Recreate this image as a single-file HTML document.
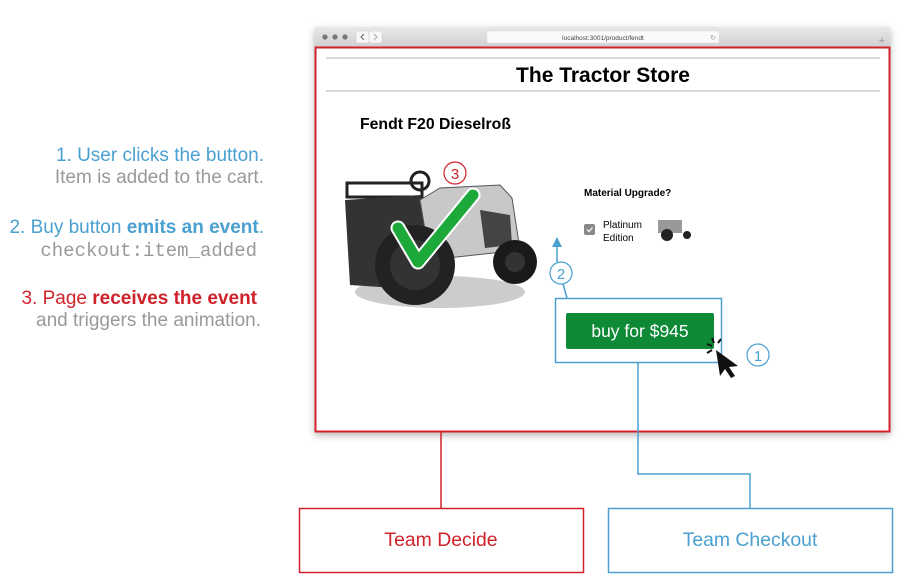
<!DOCTYPE html>
<html><head><meta charset="utf-8"><style>
body{margin:0;width:923px;height:578px;background:#fff;position:relative;overflow:hidden;font-family:"Liberation Sans",sans-serif}
.t{position:absolute;white-space:nowrap}
</style></head><body>
<svg width="923" height="578" style="position:absolute;left:0;top:0">
<defs>
<linearGradient id="tb" x1="0" y1="0" x2="0" y2="1"><stop offset="0" stop-color="#e8e8e8"/><stop offset="1" stop-color="#d0d0d0"/></linearGradient>
<filter id="sh" x="-5%" y="-5%" width="110%" height="115%"><feDropShadow dx="0" dy="3" stdDeviation="4" flood-opacity="0.3"/></filter>
</defs>
<rect x="315" y="27" width="575" height="405" fill="#fff" filter="url(#sh)"/>
<rect x="315" y="27" width="575" height="20" fill="url(#tb)"/>
<circle cx="325" cy="37" r="2.6" fill="#777"/><circle cx="335" cy="37" r="2.6" fill="#777"/><circle cx="345" cy="37" r="2.6" fill="#777"/>
<rect x="356" y="31" width="13" height="12" rx="2" fill="#f7f7f7" stroke="#ccc" stroke-width="0.5"/>
<rect x="369" y="31" width="13" height="12" rx="2" fill="#f7f7f7" stroke="#ccc" stroke-width="0.5"/>
<path d="M364 34 l-3 3 l3 3" stroke="#666" fill="none"/><path d="M374 34 l3 3 l-3 3" stroke="#aaa" fill="none"/>
<rect x="487" y="31" width="232" height="12" rx="2" fill="#fafafa" stroke="#ddd" stroke-width="0.5"/>
<text x="603" y="40" font-size="6.5" fill="#444" text-anchor="middle" font-family="Liberation Sans">localhost:3001/product/fendt</text>
<text x="713" y="40" font-size="7" fill="#999" text-anchor="middle">↻</text>
<text x="882" y="44" font-size="11" fill="#999" text-anchor="middle">+</text>
<rect x="315.5" y="47.5" width="574" height="384" fill="none" stroke="#d0222b" stroke-width="2"/>
<line x1="326" y1="58" x2="880" y2="58" stroke="#ccc" stroke-width="1.5"/>
<line x1="326" y1="91" x2="880" y2="91" stroke="#ccc" stroke-width="1.5"/>
<text x="603" y="82" font-size="21" font-weight="bold" text-anchor="middle">The Tractor Store</text>
<text x="360" y="129" font-size="15.8" font-weight="bold">Fendt F20 Dieselroß</text>
<!-- tractor -->
<ellipse cx="440" cy="292" rx="85" ry="16" fill="#ccc"/>
<rect x="347" y="183" width="75" height="14" fill="none" stroke="#222" stroke-width="3"/>
<path d="M345 200 L420 195 L430 215 L425 290 L350 285 Z" fill="#333"/>
<path d="M420 200 L440 188 L500 185 L512 198 L520 250 L430 260 Z" fill="#c8c8c8" stroke="#555"/>
<path d="M480 210 L510 215 L512 245 L485 248 Z" fill="#444"/>
<circle cx="415" cy="265" r="40" fill="#222"/>
<circle cx="415" cy="265" r="25" fill="#333"/>
<circle cx="515" cy="262" r="22" fill="#1a1a1a"/>
<circle cx="515" cy="262" r="10" fill="#333"/>
<circle cx="420" cy="181" r="9" fill="none" stroke="#222" stroke-width="3"/>
<path d="M398 228 L418 262 L473 195" stroke="#fff" stroke-width="15" fill="none" stroke-linecap="round" stroke-linejoin="round"/>
<path d="M398 228 L418 262 L473 195" stroke="#1da83a" stroke-width="11" fill="none" stroke-linecap="round" stroke-linejoin="round"/>
<circle cx="455" cy="173" r="11" fill="#fff" stroke="#d0222b" stroke-width="1.2"/>
<text x="455" y="179" font-size="15" fill="#d0222b" text-anchor="middle">3</text>
<text x="584" y="196" font-size="10" font-weight="bold">Material Upgrade?</text>
<rect x="584" y="224" width="11" height="11" rx="2" fill="#888"/>
<path d="M587 229.5 l2 2 l3.5 -4" stroke="#fff" fill="none" stroke-width="1.2"/>
<text x="603" y="228" font-size="10">Platinum</text>
<text x="603" y="241" font-size="10">Edition</text>
<rect x="658" y="220" width="24" height="13" fill="#999"/>
<circle cx="667" cy="235" r="6" fill="#222"/><circle cx="687" cy="235" r="4" fill="#222"/>
<!-- blue annotations -->
<line x1="557" y1="262" x2="557" y2="246" stroke="#4aa0d0" stroke-width="1.5"/>
<path d="M552 247 L557 237 L562 247 Z" fill="#4aa0d0"/>
<line x1="563" y1="284" x2="567" y2="298" stroke="#4aa0d0" stroke-width="1.5"/>
<circle cx="561" cy="273" r="11" fill="#fff" stroke="#4aa0d0" stroke-width="1.2"/>
<text x="561" y="279" font-size="15" fill="#4aa0d0" text-anchor="middle">2</text>
<rect x="555.5" y="298.5" width="166" height="64" fill="none" stroke="#4aa0d0" stroke-width="1.5"/>
<rect x="566" y="313" width="148" height="36" rx="2" fill="#0e8a36"/>
<text x="640" y="337" font-size="17.5" fill="#fff" text-anchor="middle">buy for $945</text>
<circle cx="758" cy="355" r="11" fill="#fff" stroke="#4aa0d0" stroke-width="1.2"/>
<text x="758" y="361" font-size="15" fill="#4aa0d0" text-anchor="middle">1</text>
<path d="M716 350 L720 376 L725 369 L731 378 L735 376 L729 367 L738 366 Z" fill="#111"/>
<g stroke="#111" stroke-width="2"><line x1="712" y1="346" x2="707" y2="344"/><line x1="714" y1="343" x2="712" y2="338"/><line x1="718" y1="343" x2="721" y2="339"/><line x1="712" y1="350" x2="707" y2="353"/></g>
<polyline points="638,362 638,474 750,474 750,508" fill="none" stroke="#4aa0d0" stroke-width="1.5"/>
<line x1="441" y1="432" x2="441" y2="508" stroke="#d0222b" stroke-width="1.5"/>
<rect x="299.5" y="508.5" width="284" height="64" fill="#fff" stroke="#d0222b" stroke-width="1.5"/>
<rect x="608.5" y="508.5" width="284" height="64" fill="#fff" stroke="#4aa0d0" stroke-width="1.5"/>
<text x="441" y="546" font-size="19.4" fill="#d0222b" text-anchor="middle">Team Decide</text>
<text x="750" y="546" font-size="19.4" fill="#4aa0d0" text-anchor="middle">Team Checkout</text>
</svg>
<div class="t" style="right:659px;top:145px;font-size:19px;color:#4aa0d0">1. User clicks the button.</div>
<div class="t" style="right:659px;top:167px;font-size:19px;color:#999">Item is added to the cart.</div>
<div class="t" style="right:659px;top:217px;font-size:19px;color:#4aa0d0">2. Buy button <b>emits an event</b>.</div>
<div class="t" style="right:666px;top:240px;font-size:19px;color:#999;font-family:'Liberation Mono',monospace">checkout:item_added</div>
<div class="t" style="right:666px;top:288px;font-size:19px;color:#d0222b">3. Page <b>receives the event</b></div>
<div class="t" style="right:662px;top:310px;font-size:19px;color:#999">and triggers the animation.</div>
</body></html>
